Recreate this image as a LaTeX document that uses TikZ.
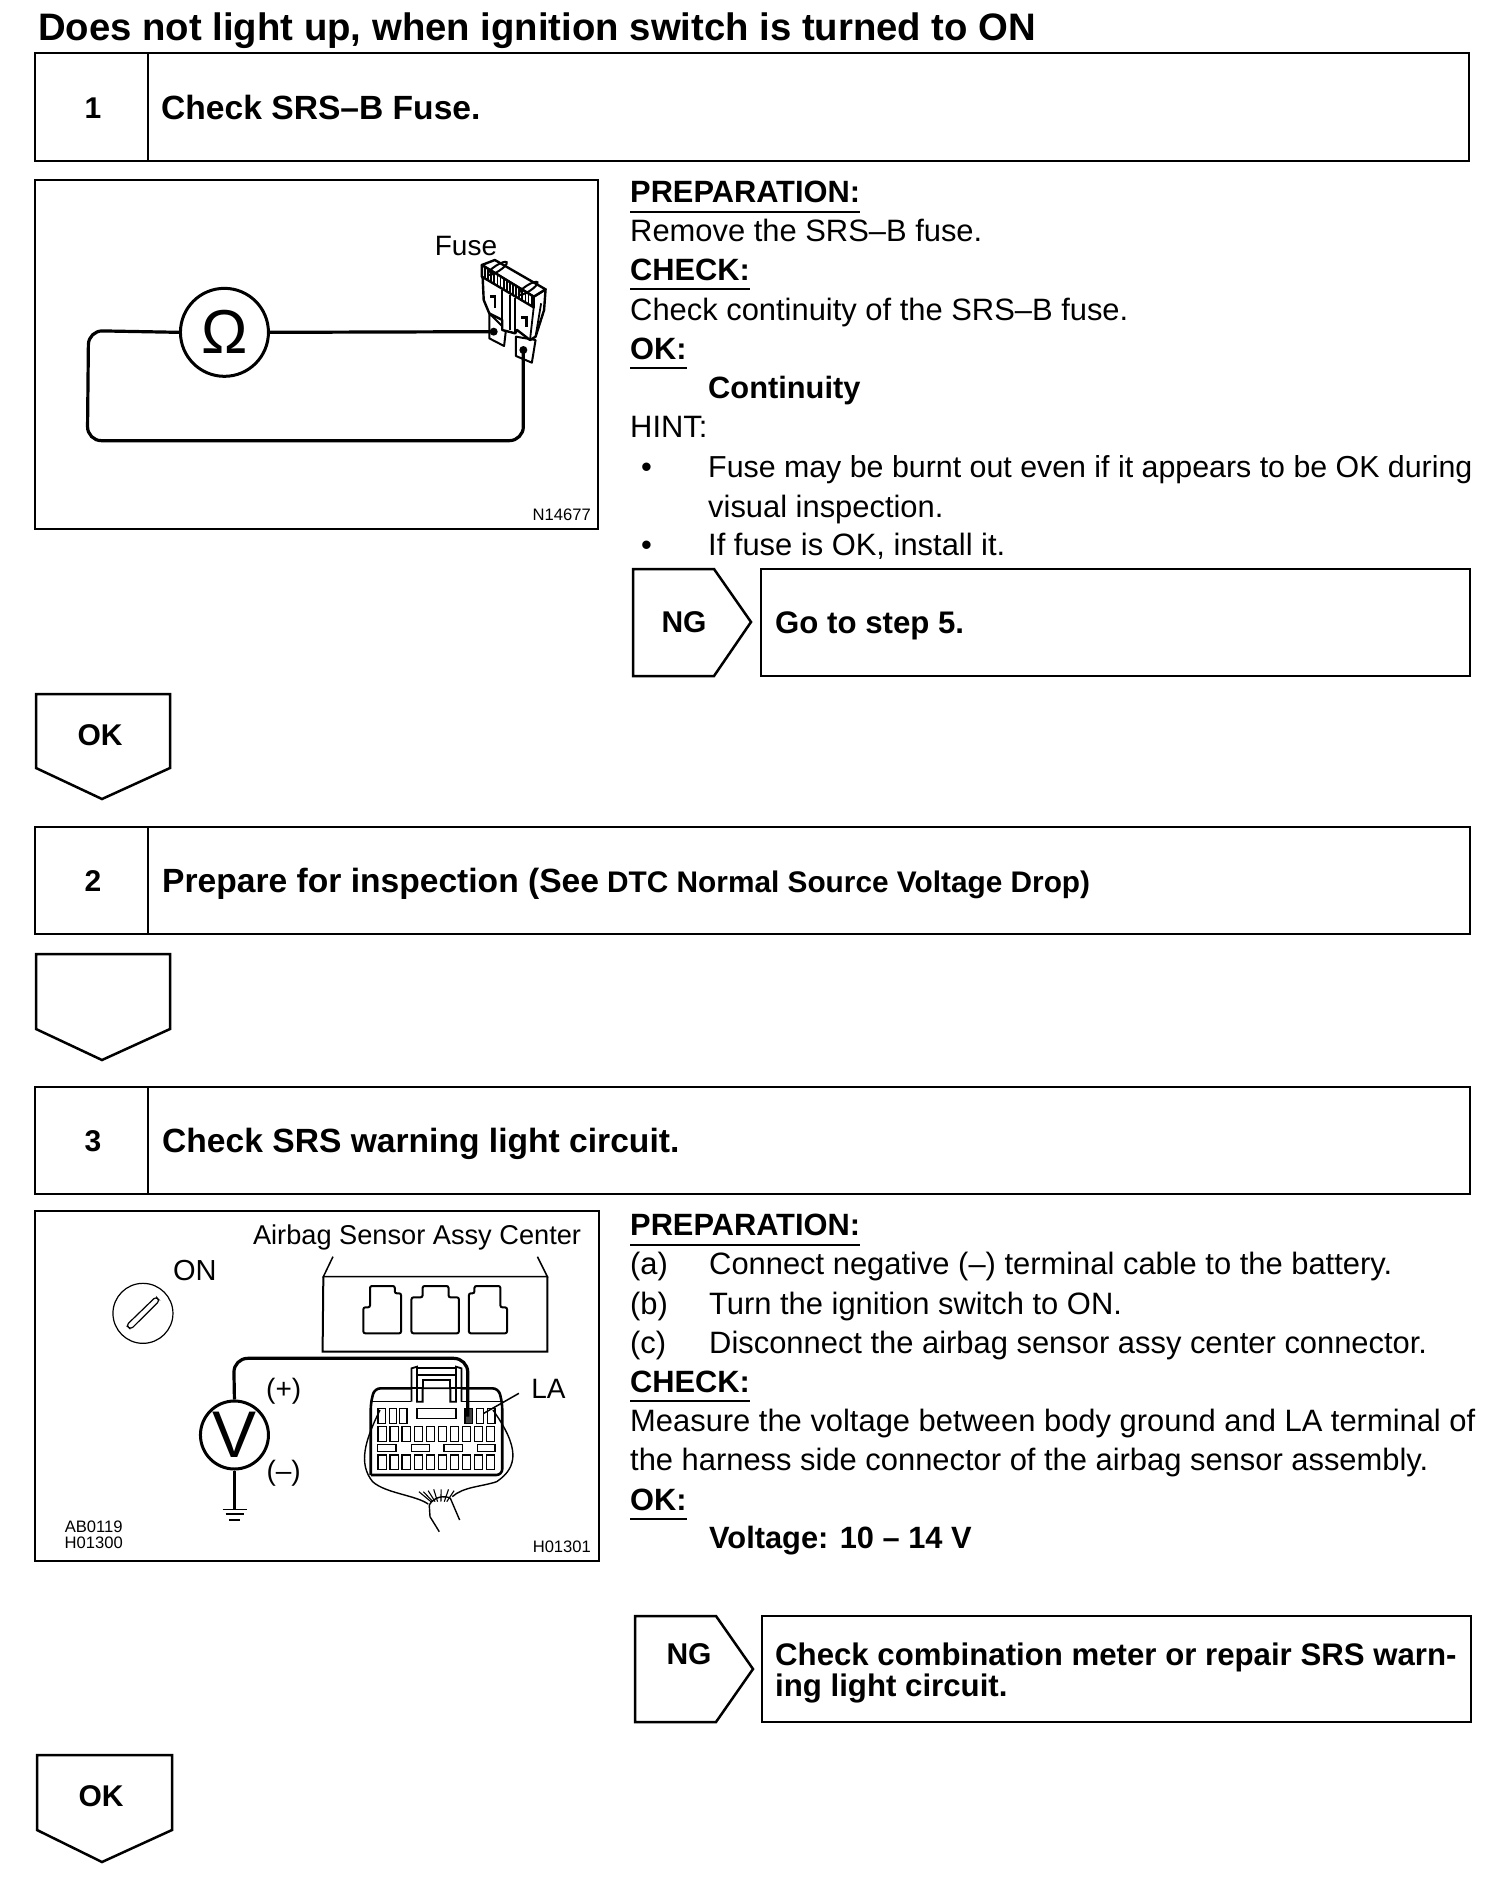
\documentclass[tikz,border=0pt]{standalone}
\usepackage{fontspec}
\usetikzlibrary{calc}
\setmainfont{Liberation Sans}
\newcommand{\sz}[1]{\fontsize{#1}{#1}\selectfont}
\tikzset{
 x=1pt,y=-1pt,
 bx/.style={draw=black,line width=2.5pt,line join=miter},
 fine/.style={draw=black,line width=1.5pt},
 wire/.style={draw=black,line width=3.2pt,rounded corners=14pt},
 tx/.style={anchor=base west,inner sep=0pt,font=\sz{30.9}},
 tb/.style={anchor=base west,inner sep=0pt,font=\sz{30.8}\bfseries},
 tg/.style={anchor=base west,inner sep=0pt,font=\sz{31.2}\bfseries},
 hd/.style={anchor=base west,inner sep=0pt,font=\sz{33.6}\bfseries},
 num/.style={anchor=base,inner sep=0pt,font=\sz{30}\bfseries},
 lab/.style={anchor=center,inner sep=0pt,font=\sz{28}},
 tiny/.style={anchor=base,inner sep=0pt,font=\sz{16.6}},
 ul/.style={draw=black,line width=1.6pt},
 meter/.style={circle,draw=black,line width=3pt,fill=white,inner sep=0pt},
 zoomA/.style={shift={(30,170)},x=0.37037pt,y=-0.33333pt},
 zoomB/.style={shift={(30,1200)},x=0.37037pt,y=-0.33333pt},
}
\begin{document}
\begin{tikzpicture}
\useasboundingbox (0,0) rectangle (1504,1882);
\fill[white] (0,0) rectangle (1504,1882);
\node[anchor=base west,inner sep=0pt,font=\sz{38.3}\bfseries] (title) at (38,40) {Does not light up, when ignition switch is turned to ON};

% step 1
\draw[bx] (35,53) rectangle (1469,161);
\draw[bx] (148,53) -- (148,161);
\node[num] (n1) at (93,118) {1};
\node[hd] (h1) at (161,119) {Check SRS–B Fuse.};

% figure 1
\draw[bx] (35,180) rectangle (598,529);
\begin{scope}[zoomA]
 \node[meter,minimum size=88pt] (om) at (525,487) {\sz{62}Ω};
 \path[draw=black,line width=2pt,fill=white,line join=round]
   (1240,430) -- (1240,505) -- (1280,528) -- (1285,480) -- cycle;
 \path[draw=black,line width=2pt,fill=white,line join=round]
   (1312,500) -- (1312,558) -- (1355,578) -- (1365,510) -- cycle;
 \path[draw=black,line width=2.4pt,fill=white,line join=round]
   (1222,320) -- (1225,390) -- (1240,430) -- (1275,450) -- (1275,480) -- (1310,490)
   -- (1315,480) -- (1350,510) -- (1365,500) -- (1388,420) -- (1392,358) -- (1360,380) -- cycle;
 \path[draw=black,line width=2.4pt,fill=white,line join=round]
   (1220,285) -- (1255,270) -- (1392,358) -- (1360,380) -- cycle;
 \path[draw=black,line width=2.4pt,fill=white,line join=round]
   (1220,285) -- (1220,320) -- (1360,412) -- (1360,380) -- cycle;
 \foreach \t in {0.06,0.12,...,0.96}
   \draw[black,line width=1.8pt] ($(1220,285)!\t!(1360,380)$) -- ($(1220,320)!\t!(1360,412)$);
 \draw[black,line width=2pt] (1275,360) -- (1275,450) (1310,385) -- (1310,490) (1297,375) -- (1297,480);
 \draw[black,line width=1.8pt] (1360,412) -- (1350,510) (1380,400) -- (1365,500);
 \draw[black,line width=2pt,rotate around={33:(1262,295)}] (1262,295) ellipse (30 and 9);
 \draw[black,line width=2pt,rotate around={33:(1345,355)}] (1345,355) ellipse (30 and 9);
 \draw[black,line width=2.4pt] (1243,380) -- (1256,380) -- (1256,415) (1326,443) -- (1340,443) -- (1340,470);
 \node[circle,fill=black,inner sep=0pt,minimum size=8pt] (da) at (1252,485) {};
 \node[circle,fill=black,inner sep=0pt,minimum size=8pt] (db) at (1332,540) {};
 \draw[wire] (om.east) -- (da.center);
 \draw[wire] (om.west) -- (158,482) -- (155,812) -- (1332,812) -- (db.center);
\end{scope}
\node[lab] (fuse) at (466,246) {Fuse};
\node[tiny,anchor=base east] (c1) at (591,520) {N14677};

% text 1
\node[tb] (p1) at (630,202) {PREPARATION:};
\draw[ul] ([yshift=-10pt]p1.base west) -- ([yshift=-10pt]p1.base east);
\node[tx] (t1) at (630,241) {Remove the SRS–B fuse.};
\node[tb] (p2) at (630,280) {CHECK:};
\draw[ul] ([yshift=-9pt]p2.base west) -- ([yshift=-9pt]p2.base east);
\node[tx] (t2) at (630,320) {Check continuity of the SRS–B fuse.};
\node[tb] (p3) at (630,359) {OK:};
\draw[ul] ([yshift=-9pt]p3.base west) -- ([yshift=-9pt]p3.base east);
\node[tb] (t3) at (708,398) {Continuity};
\node[tx] (t4) at (630,437) {HINT:};
\node[tx] (b1) at (641,477) {•};
\node[tx,font=\sz{30.35}] (t5) at (708,477) {Fuse may be burnt out even if it appears to be OK during};
\node[tx] (t6) at (708,517) {visual inspection.};
\node[tx] (b2) at (641,555) {•};
\node[tx] (t7) at (708,555) {If fuse is OK, install it.};

% NG 1
\draw[bx] (633,569) -- (714,569) -- (751,622) -- (714,676) -- (633,676) -- cycle;
\node[num] (ng1) at (684,632) {NG};
\draw[bx] (761,569) rectangle (1470,676);
\node[tg] (g1) at (775,633) {Go to step 5.};

% OK 1
\draw[bx] (36,694) -- (170,694) -- (170,768) -- (102,799) -- (36,768) -- cycle;
\node[num] (ok1) at (100,745) {OK};

% step 2
\draw[bx] (35,827) rectangle (1470,934);
\draw[bx] (148,827) -- (148,934);
\node[num] (n2) at (93,891) {2};
\node[hd] (h2) at (162,892) {Prepare for inspection (See};
\node[tb,font=\sz{29.8}\bfseries] (h2b) at (607,892) {DTC Normal Source Voltage Drop)};

% arrow
\draw[bx] (36,954) -- (170,954) -- (170,1029) -- (102,1060) -- (36,1029) -- cycle;

% step 3
\draw[bx] (35,1087) rectangle (1470,1194);
\draw[bx] (148,1087) -- (148,1194);
\node[num] (n3) at (93,1151) {3};
\node[hd] (h3) at (162,1152) {Check SRS warning light circuit.};

% figure 3
\draw[bx] (35,1211) rectangle (599,1561);
\begin{scope}[zoomB]
 % key
 \node[circle,draw=black,line width=1.2pt,minimum size=60pt,inner sep=0pt] (key) at (305,340) {};
 \draw[black,line width=1.2pt,rounded corners=3pt] (340,290) -- (350,302) -- (272,388) -- (260,376) -- cycle;
 % sensor box
 \draw[fine] (818,170) -- (792,230) -- (1397,230) -- (1370,170);
 \draw[black,line width=2pt] (792,230) -- (790,455) -- (1397,455) -- (1397,230);
 \draw[black,line width=2pt,rounded corners=2pt] (918,258) -- (985,258) -- (985,280) -- (1002,280) -- (1002,400) -- (900,400) -- (900,322) -- (918,322) -- cycle;
 \draw[black,line width=2pt,rounded corners=2pt] (1060,258) -- (1130,258) -- (1130,292) -- (1158,292) -- (1158,400) -- (1030,400) -- (1030,292) -- (1060,292) -- cycle;
 \draw[black,line width=2pt,rounded corners=2pt] (1200,258) -- (1270,258) -- (1270,322) -- (1288,322) -- (1288,400) -- (1185,400) -- (1185,280) -- (1200,280) -- cycle;
 % connector
 \draw[black,line width=1.4pt] (945,630) .. controls (905,720) and (885,790) .. (925,845) .. controls (960,880) and (1040,885) .. (1075,912);
 \draw[black,line width=1.4pt] (1250,630) .. controls (1320,740) and (1320,800) .. (1260,845) .. controls (1220,860) and (1170,860) .. (1140,890);
 \draw[black,line width=2.6pt,rounded corners=6pt] (920,825) -- (920,610) -- (930,565) -- (1030,565);
 \draw[black,line width=2.6pt,rounded corners=6pt] (1165,565) -- (1265,565) -- (1275,610) -- (1275,825) -- (920,825);
 \draw[black,line width=1.6pt] (920,605) -- (1030,605) (1165,605) -- (1275,605);
 \draw[black,line width=1.8pt] (1030,605) -- (1030,505) -- (1045,500) -- (1045,605) -- (1060,605) -- (1060,565) -- (1135,565) -- (1135,605) -- (1150,605) -- (1150,500) -- (1165,505) -- (1165,605);
 \draw[black,line width=1.8pt] (1045,505) -- (1150,505) (1045,525) -- (1150,525) (1060,565) -- (1060,540) -- (1135,540) -- (1135,565) (1030,565) -- (1060,565) (1135,565) -- (1165,565);
 \foreach \a/\b in {940/960,970/990,998/1018,1205/1225,1235/1255}
   \draw[black,line width=1.5pt] (\a,625) rectangle (\b,670);
 \draw[black,line width=1.5pt] (1045,625) rectangle (1150,655);
 \draw[black,line width=1.5pt,fill=black!75] (1175,625) rectangle (1195,670);
 \foreach \i in {0,...,9}{
   \draw[black,line width=1.5pt] ({940+\i*32.5},680) rectangle ({962+\i*32.5},725);
   \draw[black,line width=1.5pt] ({940+\i*32.5},765) rectangle ({962+\i*32.5},808);
 }
 \foreach \a/\b in {938/988,1030/1078,1118/1168,1208/1256}
   \draw[black,line width=1.5pt] (\a,733) rectangle (\b,755);
 % cable
 \draw[black,line width=1.4pt] (1105,995) -- (1080,950) -- (1078,915) .. controls (1090,890) and (1120,885) .. (1135,895) -- (1160,960);
 \foreach \p/\q in {1050/875,1062/875,1075/872,1090/868,1110/868,1130/868,1145/872}
   \draw[black,line width=1.1pt] (\p,\q) -- ({1105+(\p-1100)*0.45},905);
 % voltmeter
 \node[meter,minimum size=68pt] (vm) at (552,705) {\sz{66}V};
 \coordinate (wt) at (1182,650);
 \draw[wire] (vm.north) -- (550,475) -- (1182,475) -- (wt);
 \node[inner sep=0pt] (gnd) at (552,928) {};
 \draw[black,line width=2.8pt] (vm.south) -- (gnd.center);
 \draw[black,line width=1.6pt] (520,928) -- (585,928) (528,942) -- (578,942) (538,960) -- (568,960);
 \node[lab] (plus) at (685,575) {(+)};
 \node[lab] (minus) at (685,820) {(–)};
 \node[lab,font=\sz{29}] (on) at (445,212) {ON};
 \node[lab,font=\sz{27.2}] (air) at (1045,112) {Airbag Sensor Assy Center};
 \node[lab] (la) at (1400,568) {LA};
 \coordinate (lat) at (1225,640);
 \draw[fine] (1320,580) -- (lat);
 \node[tiny,anchor=base] (c2) at (172,998) {AB0119};
 \node[tiny,anchor=base] (c3) at (172,1046) {H01300};
 \node[tiny,anchor=base east] (c4) at (1515,1056) {H01301};
\end{scope}

% text 3
\node[tb] (q1) at (630,1235) {PREPARATION:};
\draw[ul] ([yshift=-10pt]q1.base west) -- ([yshift=-10pt]q1.base east);
\node[tx] (a1) at (630,1274) {(a)};
\node[tx] (a2) at (709,1274) {Connect negative (–) terminal cable to the battery.};
\node[tx] (b3) at (630,1314) {(b)};
\node[tx] (b4) at (709,1314) {Turn the ignition switch to ON.};
\node[tx] (c5) at (630,1353) {(c)};
\node[tx] (c6) at (709,1353) {Disconnect the airbag sensor assy center connector.};
\node[tb] (q2) at (630,1392) {CHECK:};
\draw[ul] ([yshift=-9pt]q2.base west) -- ([yshift=-9pt]q2.base east);
\node[tx] (d1) at (630,1431) {Measure the voltage between body ground and LA terminal of};
\node[tx] (d2) at (630,1470) {the harness side connector of the airbag sensor assembly.};
\node[tb] (q3) at (630,1510) {OK:};
\draw[ul] ([yshift=-9pt]q3.base west) -- ([yshift=-9pt]q3.base east);
\node[tb] (d3) at (709,1548) {Voltage: 10 – 14 V};

% NG 2
\draw[bx] (635,1616) -- (716,1616) -- (753,1669) -- (716,1722) -- (635,1722) -- cycle;
\node[num] (ng2) at (689,1664) {NG};
\draw[bx] (762,1616) rectangle (1471,1722);
\node[tg] (g2) at (775,1665) {Check combination meter or repair SRS warn-};
\node[tg] (g3) at (775,1696) {ing light circuit.};

% OK 2
\draw[bx] (37,1755) -- (172,1755) -- (172,1830) -- (102,1862) -- (37,1830) -- cycle;
\node[num] (ok2) at (101,1806) {OK};
\end{tikzpicture}
\end{document}
